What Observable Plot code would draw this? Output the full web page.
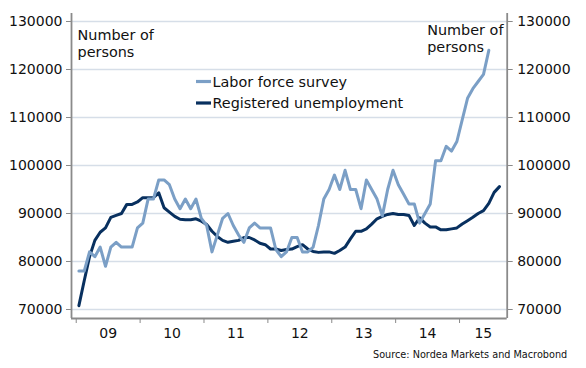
<!DOCTYPE html>
<html><head><meta charset="utf-8">
<script src="https://cdn.jsdelivr.net/npm/d3@7"></script>
<script src="https://cdn.jsdelivr.net/npm/@observablehq/plot@0.6"></script>
<style>
html,body{margin:0;padding:0;background:#fff;}
#chart svg{display:block;}
</style></head><body><div id="chart"></div>
<script>
// ---- data (monthly, starting January 2009) ----
const startYear = 2009;
const laborForceSurvey = [
  78000, 78000, 82000, 81000, 83000, 79000, 83000, 84000, 83000, 83000, 83000, 87000,
  88000, 93000, 93000, 97000, 97000, 96000, 93000, 91000, 93000, 91000, 93000, 89000,
  87500, 82000, 85500, 89000, 90000, 87500, 85500, 84000, 87000, 88000, 87000, 87000,
  87000, 82500, 81000, 82000, 85000, 85000, 82000, 82000, 83000, 87500, 93000, 95000,
  98000, 95000, 99000, 95000, 95000, 91000, 97000, 95000, 93000, 89500, 95000, 99000,
  96000, 94000, 92000, 92000, 88000, 90000, 92000, 101000, 101000, 104000, 103000, 105000,
  109500, 114000, 116000, 117500, 119000, 124000
];
const registeredUnemployment = [
  70800, 76000, 81000, 84400, 86100, 87000, 89200, 89600, 90000, 91900, 91900, 92400,
  93300, 93300, 93300, 94300, 91200, 90300, 89400, 88800, 88700, 88700, 88900, 88400,
  87700, 86300, 85200, 84400, 84000, 84200, 84400, 85000, 85000, 84500, 83800, 83500,
  82600, 82600, 82300, 82500, 82600, 83100, 83500, 82600, 82100, 81900, 82000, 82000,
  81700, 82300, 83000, 84700, 86300, 86300, 86800, 87800, 88900, 89400, 89800, 90000,
  89800, 89800, 89600, 87500, 89100, 88000, 87200, 87200, 86600, 86600, 86800, 87000,
  87800, 88500, 89200, 90000, 90600, 92100, 94400, 95600
];
const seriesNames = ["Labor force survey", "Registered unemployment"];
const seriesColors = ["#7b9fc6", "#08305f"];
const yearLabels = ["09", "10", "11", "12", "13", "14", "15"];
const yTicks = [70000, 80000, 90000, 100000, 110000, 120000, 130000];
const unitLabel = ["Number of", "persons"];
const sourceText = "Source: Nordea Markets and Macrobond";

// ---- build table ----
const toRows = (vals, name) => vals.map((v, i) => ({t: startYear + (i + 0.5) / 12, v, s: name}));
const rows = [
  ...toRows(registeredUnemployment, seriesNames[1]),
  ...toRows(laborForceSurvey, seriesNames[0])
];

const W = 586, H = 368;
const mL = 71, mR = 79.3, mT = 13, mB = 50;
const xDomain = [2008.926, 2015.746];
const yDomain = [68125, 131667];
const yearStarts = yearLabels.map((d, i) => startYear + i);
const labelRows = yearStarts.map((y, i) => ({x: (y + Math.min(y + 1, xDomain[1])) / 2, label: yearLabels[i]}));
const font = "'DejaVu Sans', Verdana, sans-serif";
const axisColor = "#8a8a8a";

const plot = Plot.plot({
  width: W, height: H,
  marginLeft: mL, marginRight: mR, marginTop: mT, marginBottom: mB,
  style: {fontFamily: font, fontSize: "14px", color: "#111", background: "white", overflow: "visible"},
  x: {type: "linear", domain: xDomain, label: null},
  y: {domain: yDomain, label: null},
  color: {domain: seriesNames, range: seriesColors},
  marks: [
    Plot.gridY(yTicks, {stroke: "#d6dee8", strokeOpacity: 1, strokeWidth: 1.6}),
    Plot.axisY(yTicks, {anchor: "left", label: null, tickSize: 5, tickPadding: 4, tickFormat: d => String(d), stroke: axisColor, fill: "#111", fontSize: 14}),
    Plot.axisY(yTicks, {anchor: "right", label: null, tickSize: 5, tickPadding: 5, tickFormat: d => String(d), stroke: axisColor, fill: "#111", fontSize: 14}),
    Plot.axisX(yearStarts, {label: null, tickSize: 5, tickFormat: () => "", stroke: axisColor}),
    Plot.text(labelRows, {x: "x", text: "label", frameAnchor: "bottom", dy: 15.5, lineAnchor: "middle", fontSize: 14, fill: "#111"}),
    Plot.ruleX([xDomain[0], xDomain[1]], {stroke: axisColor, strokeWidth: 1.8}),
    Plot.ruleY([yDomain[0]], {stroke: axisColor, strokeWidth: 1.8}),
    Plot.line(rows, {x: "t", y: "v", z: "s", stroke: "s", strokeWidth: 3, strokeLinejoin: "round"}),
    Plot.text([unitLabel.join("\n")], {frameAnchor: "top-left", dx: 6, dy: 15, lineAnchor: "top", textAnchor: "start", fontSize: 14.4, lineHeight: 1.15, fill: "#111"}),
    Plot.text([unitLabel.join("\n")], {frameAnchor: "top-right", dx: -80, dy: 10, lineAnchor: "top", textAnchor: "start", fontSize: 14.4, lineHeight: 1.15, fill: "#111"}),
    Plot.text([sourceText], {frameAnchor: "bottom-right", dx: 60, dy: 36, lineAnchor: "middle", textAnchor: "end", fontSize: 9.7, fill: "#111"})
  ]
});

// legend
const svg = d3.select(plot);
const leg = svg.append("g").attr("font-family", font).attr("font-size", 14.4).attr("fill", "#111").attr("text-anchor", "start");
seriesNames.forEach((name, i) => {
  const cy = 81.5 + i * 21.5;
  leg.append("line").attr("x1", 196).attr("x2", 211).attr("y1", cy).attr("y2", cy)
    .attr("stroke", seriesColors[i]).attr("stroke-width", 3.2);
  leg.append("text").attr("x", 212.5).attr("y", cy).attr("dy", "0.35em").attr("text-anchor", "start").text(name);
});

document.getElementById("chart").appendChild(plot);
</script>
</body></html>
